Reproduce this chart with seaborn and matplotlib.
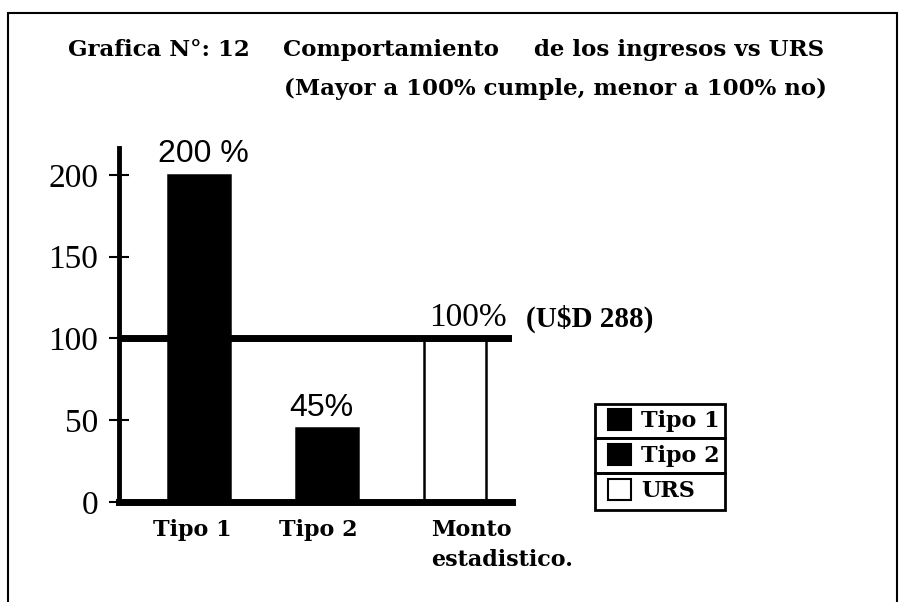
import matplotlib
matplotlib.use("Agg")
import matplotlib.pyplot as plt
import matplotlib.transforms as mtransforms
import seaborn as sns
import pandas as pd
from matplotlib.patches import Patch, Rectangle

categories = ["Tipo 1", "Tipo 2", "Monto\nestadistico."]
values = [200, 45, 100]
bar_labels = ["200 %", "45%", "100%"]
legend_labels = ["Tipo 1", "Tipo 2", "URS"]
bar_colors = ["black", "black", "white"]
yticks = [0, 50, 100, 150, 200]
title_parts = ["Grafica N°: 12", "Comportamiento", "de los ingresos vs URS"]
title_line2 = "(Mayor a 100% cumple, menor a 100% no)"
ref_note = "(U$D 288)"

sns.set_theme(style="white")
plt.rcParams["font.family"] = ["Liberation Serif", "DejaVu Serif"]
plt.rcParams["text.color"] = "black"
plt.rcParams["xtick.color"] = "black"
plt.rcParams["ytick.color"] = "black"
plt.rcParams["xtick.labelcolor"] = "black"
plt.rcParams["ytick.labelcolor"] = "black"

SERIF_B = ["DejaVu Serif"]

W, H = 900, 602
fig = plt.figure(figsize=(W / 100, H / 100), dpi=100)
fig.patch.set_facecolor("white")

def fx(px):
    return px / W

def fy(py):
    return 1 - py / H

ax = fig.add_axes([fx(119), fy(502), fx(512) - fx(119), fy(148) - fy(502)])
ax.set_facecolor("white")

df = pd.DataFrame({"cat": categories, "val": values})
sns.barplot(data=df, x="cat", y="val", hue="cat", palette=dict(zip(categories, bar_colors)),
            edgecolor="black", linewidth=1.8, width=0.485, legend=False, ax=ax, saturation=1)

ax.set_xlim(-0.625, 2.445)
ax.set_ylim(0, 216.5)
ax.axhline(100, color="black", lw=5, zorder=5)

for s in ["top", "right"]:
    ax.spines[s].set_visible(False)
ax.spines["left"].set_linewidth(3.5)
ax.spines["left"].set_color("black")
ax.spines["bottom"].set_linewidth(5)
ax.spines["bottom"].set_color("black")
ax.spines["bottom"].set_zorder(6)

ax.set_yticks(yticks)
ax.set_yticklabels([str(t) for t in yticks], fontsize=24, family=["Liberation Serif"], color="black")
ax.tick_params(axis="y", direction="inout", length=14, width=1.5, pad=8, colors="black", left=True)
ax.tick_params(axis="x", length=0, pad=12)
ax.set_xticks(range(len(categories)))
ax.set_xticklabels(categories, fontsize=16, fontweight="bold", family=SERIF_B,
                   multialignment="left", linespacing=1.5, color="black")
ax.set_xlabel("")
ax.set_ylabel("")

dxs = [-7, -9, -24]
for lbl, dx in zip(ax.get_xticklabels(), dxs):
    lbl.set_transform(lbl.get_transform() + mtransforms.ScaledTranslation(dx / 100, 0, fig.dpi_scale_trans))
ax.get_xticklabels()[2].set_ha("left")

label_fonts = [["Liberation Sans"], ["Liberation Sans"], ["Liberation Serif"]]
label_sizes = [23, 23, 24]
label_dx = [3, -4, 9]
for i, (v, lab) in enumerate(zip(values, bar_labels)):
    ax.annotate(lab, (i, v), xytext=(label_dx[i], 4), textcoords="offset points",
                ha="center", va="bottom", fontsize=label_sizes[i], family=label_fonts[i],
                color="black", annotation_clip=False)
ax.annotate(ref_note, (2, 100), xytext=(51, 4), textcoords="offset points",
            ha="left", va="bottom", fontsize=21, fontweight="bold", color="black",
            family=["Liberation Serif"], annotation_clip=False)

for txt, x0 in zip(title_parts, [68, 283, 534]):
    fig.text(fx(x0), fy(50), txt, fontsize=16.5, fontweight="bold", family=SERIF_B,
             ha="left", va="center", color="black")
fig.text(fx(284), fy(89), title_line2, fontsize=16.5, fontweight="bold", family=SERIF_B,
         ha="left", va="center", color="black")

# legend: entries with individually framed rows
rows = [(404, 438), (438, 473), (473, 510)]
lx0, lx1 = 595, 725
handles = [Patch(facecolor=c, edgecolor="black", lw=1.5) for c in bar_colors]
leg = fig.legend(handles=handles, labels=legend_labels, loc="upper left",
                 bbox_to_anchor=(fx(lx0 + 13), fy(rows[0][0] + 5)), frameon=False,
                 prop={"size": 16, "weight": "bold", "family": SERIF_B},
                 handlelength=1.05, handleheight=1.1, handletextpad=0.45,
                 labelspacing=0.52, borderpad=0, borderaxespad=0, labelcolor="black")
for y0, y1 in rows:
    fig.patches.append(Rectangle((fx(lx0), fy(y1)), fx(lx1) - fx(lx0), fy(y0) - fy(y1),
                                 transform=fig.transFigure, fill=False, edgecolor="black", lw=2))

fig.patches.append(Rectangle((fx(8), -0.05), fx(897) - fx(8), fy(13) + 0.05,
                             transform=fig.transFigure, fill=False, edgecolor="black", lw=1.5))

fig.savefig("out.png", dpi=100)
